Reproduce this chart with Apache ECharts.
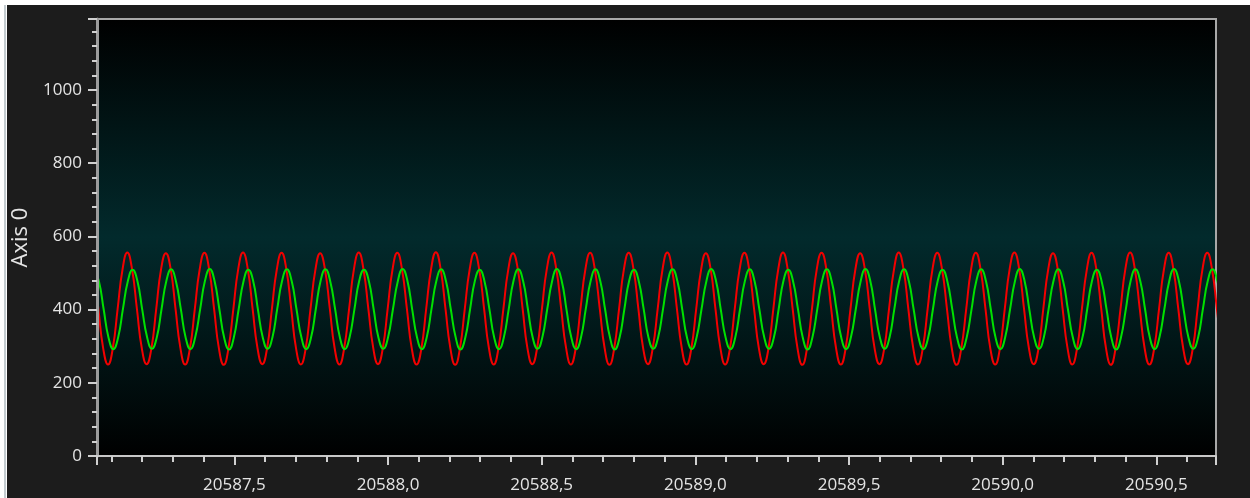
<!DOCTYPE html>
<html>
<head>
<meta charset="utf-8">
<script src="https://cdn.jsdelivr.net/npm/echarts@6/dist/echarts.min.js"></script>
<style>
html,body{margin:0;padding:0;background:#ffffff;width:1250px;height:498px;overflow:hidden;}
#frame{position:absolute;left:7px;top:5px;right:0;bottom:0;background:#1c1c1c;}
#edge{position:absolute;left:4px;top:5px;width:2px;bottom:0;background:#c4ccd0;}
#chart{position:absolute;left:0;top:0;width:1250px;height:498px;}
</style>
</head>
<body>
<div id="edge"></div>
<div id="frame"></div>
<div id="chart"></div>
<script>
// ---- data ----
const xMin = 20587.053;
const xMax = 20590.694;
const yMin = 0;
const yMax = 1194;
const yTickLabels = [0, 200, 400, 600, 800, 1000];
const xTickLabels = ['20587,5', '20588,0', '20588,5', '20589,0', '20589,5', '20590,0', '20590,5'];
const sampleStep = 0.0156875;       // seconds between samples (8 per cycle)
const redStart = 20587.0261;        // time of first red sample
const greenStart = 20587.0433;      // time of first green sample

const redValues = [
555,510,402,294,250,295,403,509,
556,509,401,295,251,294,402,510,
554,510,403,296,250,295,401,509,
555,508,402,294,249,296,402,510,
556,510,401,295,251,295,403,509,
555,509,402,294,250,294,402,508,
554,510,403,295,250,296,401,510,
556,509,402,296,251,295,402,509,
555,508,401,294,250,294,403,510,
557,510,402,295,249,295,402,509,
555,509,403,295,250,296,401,508,
554,510,402,294,251,295,402,510,
556,509,401,296,250,294,403,509,
555,508,402,295,249,295,402,510,
555,510,403,294,251,296,401,509,
556,509,402,295,250,295,402,508,
554,510,401,296,250,294,403,510,
555,509,402,294,251,295,402,509,
556,508,403,295,249,296,401,510,
555,510,402,295,250,295,402,509,
554,509,401,294,251,294,403,508,
556,510,402,296,250,295,402,510,
555,509,403,295,249,296,401,509,
555,508,402,294,250,295,402,510,
556,510,401,295,251,294,403,509,
554,509,402,296,250,295,402,508,
555,510,403,294,249,296,401,510,
556,509,402,295,250,295,402,509,
555,508,401,295,251,294,403,510,
555,509,402,295,250
];

const greenValues = [
510,478,401,324,292,324,402,477,
509,478,400,325,293,323,401,478,
510,477,402,324,292,325,400,478,
511,478,401,323,291,324,401,477,
509,479,400,324,293,324,402,478,
510,478,401,325,292,323,401,479,
510,477,402,324,292,324,400,478,
509,478,401,323,293,325,401,477,
511,479,400,324,292,324,402,478,
510,478,401,325,291,323,401,479,
509,477,402,324,292,324,400,478,
510,478,401,323,293,325,401,477,
511,479,400,324,292,324,402,478,
510,478,401,325,291,323,401,479,
509,477,402,324,293,324,400,478,
510,478,401,323,292,325,401,477,
511,479,400,324,292,324,402,478,
510,478,401,325,293,323,401,479,
509,477,402,324,291,324,400,478,
510,478,401,323,292,325,401,477,
511,479,400,324,293,324,402,478,
510,478,401,325,292,323,401,479,
509,477,402,324,291,324,400,478,
510,478,401,323,292,325,401,477,
511,479,400,324,293,324,402,478,
510,478,401,325,292,323,401,479,
509,477,402,324,291,324,400,478,
510,478,401,323,292,325,401,477,
511,479,400,324,293,324,402,478,
510,478,401,324,292
];

// ---- build series data (time, value) ----
function pairs(start, values) {
  const out = [];
  for (let i = 0; i < values.length; i++) {
    out.push([+(start + i * sampleStep).toFixed(5), values[i]]);
  }
  return out;
}

const chart = echarts.init(document.getElementById('chart'), null, {renderer: 'canvas'});
const font = '"Open Sans", "Noto Sans", sans-serif';
const labelColor = '#e4e4e4';

chart.setOption({
  backgroundColor: 'transparent',
  animation: false,
  grid: {
    left: 97, right: 34, top: 19, bottom: 42,
    show: true,
    borderColor: '#a8a8a8',
    borderWidth: 2,
    backgroundColor: new echarts.graphic.LinearGradient(0, 0, 0, 1, [
      {offset: 0, color: '#000000'},
      {offset: 0.5, color: '#022a2c'},
      {offset: 1, color: '#000000'}
    ])
  },
  xAxis: {
    type: 'value',
    min: xMin,
    max: xMax,
    splitNumber: 7,
    z: 5,
    axisLine: {show: true, onZero: false, lineStyle: {color: '#c8c8c8', width: 2}},
    axisTick: {show: true, inside: false, length: 9, lineStyle: {color: '#d0d0d0', width: 2}},
    minorTick: {show: true, splitNumber: 5, length: 6, lineStyle: {color: '#d0d0d0', width: 2}},
    splitLine: {show: false},
    axisLabel: {
      show: true, margin: 21, color: labelColor, fontSize: 17, fontFamily: font,
      showMinLabel: false, showMaxLabel: false,
      formatter: function (v) {
        const s = v.toFixed(1).replace('.', ',');
        return xTickLabels.indexOf(s) >= 0 ? s : '';
      }
    }
  },
  yAxis: {
    type: 'value',
    min: yMin,
    max: yMax,
    interval: 200,
    z: 5,
    name: 'Axis 0',
    nameLocation: 'middle',
    nameRotate: 90,
    nameGap: 62,
    nameTextStyle: {color: labelColor, fontSize: 22, fontFamily: font},
    axisLine: {show: true, lineStyle: {color: '#9c9c9c', width: 3}},
    axisTick: {show: true, inside: false, length: 9, lineStyle: {color: '#d0d0d0', width: 2}},
    minorTick: {show: true, splitNumber: 5, length: 5, lineStyle: {color: '#d0d0d0', width: 2}},
    splitLine: {show: false},
    axisLabel: {
      show: true, margin: 15, color: labelColor, fontSize: 17, fontFamily: font,
      showMaxLabel: false,
      formatter: function (v) {
        return yTickLabels.indexOf(v) >= 0 ? String(v) : '';
      }
    }
  },
  series: [
    {
      name: 'red', type: 'line', data: pairs(redStart, redValues),
      smooth: 0.5, showSymbol: false, clip: true, z: 2,
      lineStyle: {color: '#f20000', width: 2}
    },
    {
      name: 'green', type: 'line', data: pairs(greenStart, greenValues),
      smooth: 0.5, showSymbol: false, clip: true, z: 2,
      lineStyle: {color: '#00e000', width: 2}
    }
  ]
});
</script>
</body>
</html>
